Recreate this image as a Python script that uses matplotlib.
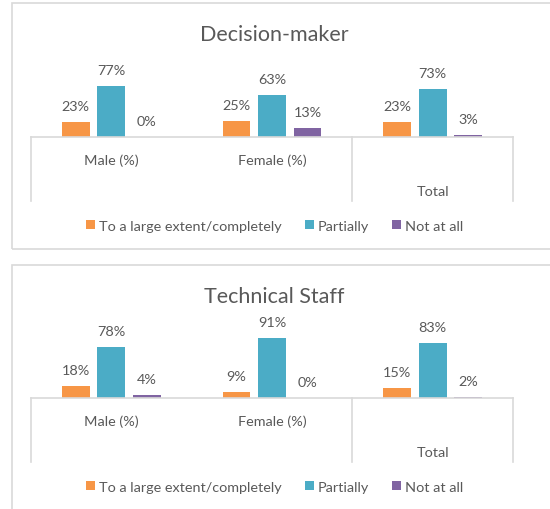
import matplotlib.pyplot as plt
from matplotlib.patches import Rectangle, Patch
from matplotlib.lines import Line2D

plt.rcParams['font.family'] = ['Lato', 'DejaVu Sans']

# categories and values (%)
categories = ['Male (%)', 'Female (%)', 'Total']
series_names = ['To a large extent/completely', 'Partially', 'Not at all']
colors = ['#F79646', '#4BACC6', '#8064A2']

dm_large = [23, 25, 23]
dm_partial = [77, 63, 73]
dm_not = [0, 13, 3]

ts_large = [18, 9, 15]
ts_partial = [78, 91, 83]
ts_not = [4, 0, 2]

W, H = 550, 510
text_col = '#595959'
line_col = '#D9D9D9'
fs = 10.4

fig = plt.figure(figsize=(W / 100, H / 100), dpi=100)


def px(x, y):
    # pixel (from top-left) -> figure fraction
    return x / W, 1 - y / H


def draw_panel(title, values, box_top, box_bottom, base_y):
    # chart border
    fig.patches.append(Rectangle(px(12, box_bottom), (W + 5 - 12) / W,
                                 (box_bottom - box_top) / H,
                                 transform=fig.transFigure, fill=False,
                                 edgecolor=line_col, lw=1.2))
    # plot area: 100% = 66 px
    left, right = 31, 513
    ax = fig.add_axes([left / W, 1 - base_y / H, (right - left) / W, 66 / H])
    ax.set_xlim(-0.5, 2.5)
    ax.set_ylim(0, 100)
    ax.axis('off')

    width = 0.174
    step = 0.221
    for k, vals in enumerate(values):
        xs = [i + (k - 1) * step for i in range(len(categories))]
        ax.bar(xs, vals, width=width, color=colors[k], edgecolor='none')
        for x, v in zip(xs, vals):
            ax.annotate(f'{v}%', (x, v), xytext=(0, 11.5), textcoords='offset points',
                        ha='center', va='center', fontsize=fs, color=text_col)

    # multi-level category axis
    depth = 64 / 66 * 100
    ax.add_line(Line2D([-0.5, 2.5], [0, 0], color=line_col, lw=1.2, clip_on=False))
    for xv in [-0.5, 1.5, 2.5]:
        ax.add_line(Line2D([xv, xv], [0, -depth], color=line_col, lw=1.2, clip_on=False))
    for i, cat in enumerate(categories):
        off = -23 if i < 2 else -54
        ax.annotate(cat, (i, 0), xytext=(0, off * 0.72), textcoords='offset points',
                    ha='center', va='center', fontsize=fs, color=text_col)

    # title
    tx, ty = px(274, box_top + 31)
    fig.text(tx, ty, title, ha='center', va='center', fontsize=15.5, color=text_col)

    # legend
    handles = [Patch(facecolor=c, edgecolor='none') for c in colors]
    lx, ly = px(275, base_y + 89)
    fig.legend(handles, series_names, loc='center', bbox_to_anchor=(lx, ly),
               ncol=3, frameon=False, fontsize=fs, labelcolor=text_col,
               handlelength=0.6, handleheight=0.6, handletextpad=0.3,
               columnspacing=1.6, borderpad=0)


draw_panel('Decision-maker', [dm_large, dm_partial, dm_not], 4, 250, 138)
draw_panel('Technical Staff', [ts_large, ts_partial, ts_not], 266, 520, 399)

fig.savefig('out.png', dpi=100)
